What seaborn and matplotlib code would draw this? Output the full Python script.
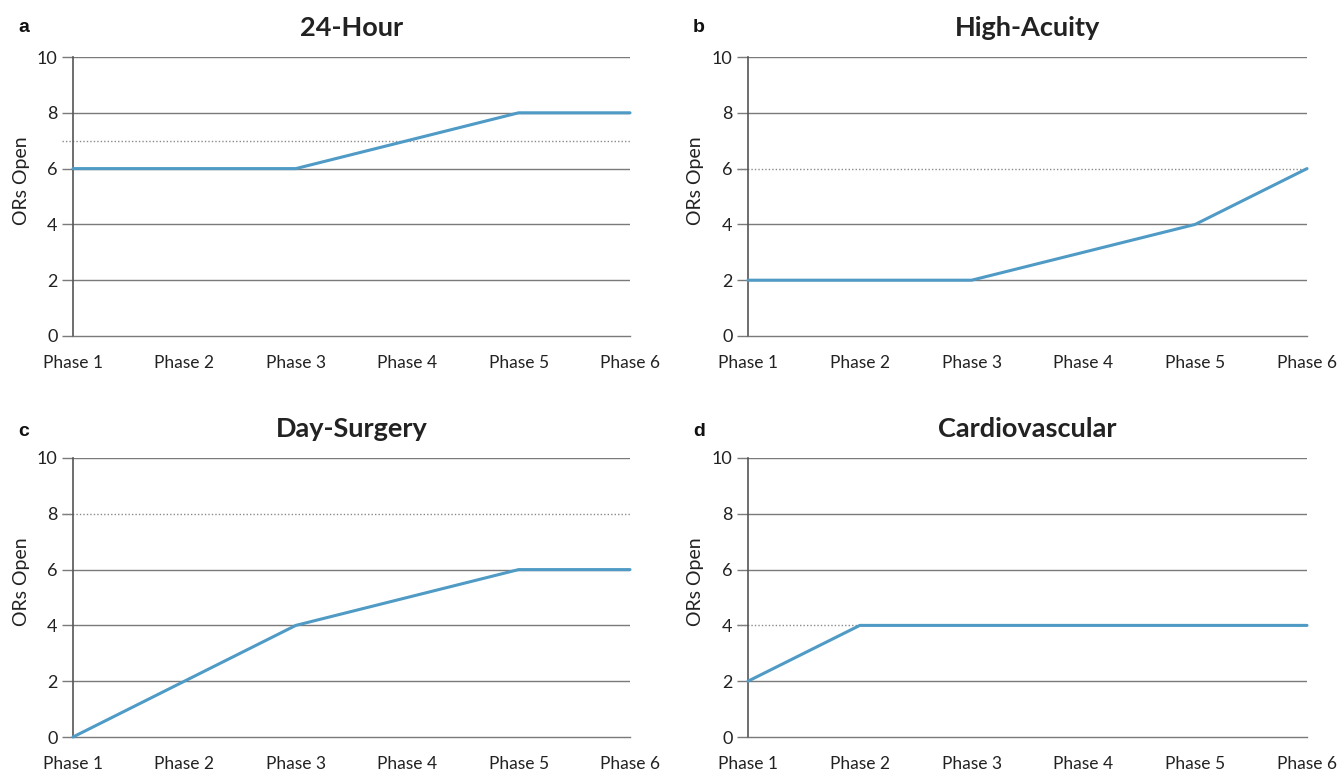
import matplotlib
matplotlib.use("Agg")
import matplotlib.pyplot as plt
import seaborn as sns
import pandas as pd

phases = ["Phase 1", "Phase 2", "Phase 3", "Phase 4", "Phase 5", "Phase 6"]
titles = ["24-Hour", "High-Acuity", "Day-Surgery", "Cardiovascular"]
letters = ["a", "b", "c", "d"]
vals_24hour = [6, 6, 6, 7, 8, 8]
vals_high_acuity = [2, 2, 2, 3, 4, 6]
vals_day_surgery = [0, 2, 4, 5, 6, 6]
vals_cardio = [2, 4, 4, 4, 4, 4]
reference_levels = [7, 6, 8, 4]
yticks = [0, 2, 4, 6, 8, 10]

series = [vals_24hour, vals_high_acuity, vals_day_surgery, vals_cardio]

sns.set_theme(style="white")
plt.rcParams['font.family'] = ['Lato', 'DejaVu Sans']

fig = plt.figure(figsize=(13.4, 7.72), dpi=100)
W, H = 1340, 772
boxes = [(73, 630, 57, 336), (748, 1307, 57, 336), (73, 630, 458, 737), (748, 1307, 458, 737)]

line_color = "#4f9bc6"
grid_color = "#7a7a7a"
text_color = "#222222"

for i, (x0, x1, ytop, ybot) in enumerate(boxes):
    ax = fig.add_axes([x0 / W, 1 - ybot / H, (x1 - x0) / W, (ybot - ytop) / H])
    df = pd.DataFrame({"Phase": phases, "ORs": series[i]})
    for y in yticks[1:]:
        if y == reference_levels[i]:
            continue
        ax.axhline(y, color=grid_color, lw=1.0, zorder=1)
    ax.axhline(reference_levels[i], xmin=-0.02, xmax=1, color="#8a8a8a", lw=1.0,
               ls=(0, (1, 1.5)), zorder=2, clip_on=False)
    sns.lineplot(data=df, x="Phase", y="ORs", ax=ax, color=line_color, lw=2.2,
                 zorder=3, sort=False, clip_on=False)
    ax.set_xlim(0, 5)
    ax.set_ylim(0, 10)
    for s in ["top", "right"]:
        ax.spines[s].set_visible(False)
    ax.spines["left"].set_color("#555555")
    ax.spines["left"].set_linewidth(1.2)
    ax.spines["bottom"].set_color(grid_color)
    ax.spines["bottom"].set_linewidth(1.0)
    ax.set_yticks(yticks)
    ax.tick_params(axis="y", left=True, length=8, width=1.0, color=grid_color,
                   labelsize=13, pad=3, labelcolor=text_color)
    ax.tick_params(axis="x", bottom=False, length=0, labelsize=12.5, pad=14,
                   labelcolor=text_color)
    ax.set_xlabel("")
    ax.set_ylabel("ORs Open", fontsize=14, color=text_color)
    ax.yaxis.set_label_coords(-0.078, 0.555)
    ax.set_title(titles[i], fontsize=19.5, fontweight="bold", color=text_color, pad=15)
    ax.grid(False)
    fig.text((x0 - 55) / W, 1 - 27 / H if i < 2 else 1 - 431 / H, letters[i],
             fontsize=14, fontweight="bold", family="Liberation Sans",
             ha="left", va="center", color="#111111")

fig.savefig("out.png", dpi=100, facecolor="white")
